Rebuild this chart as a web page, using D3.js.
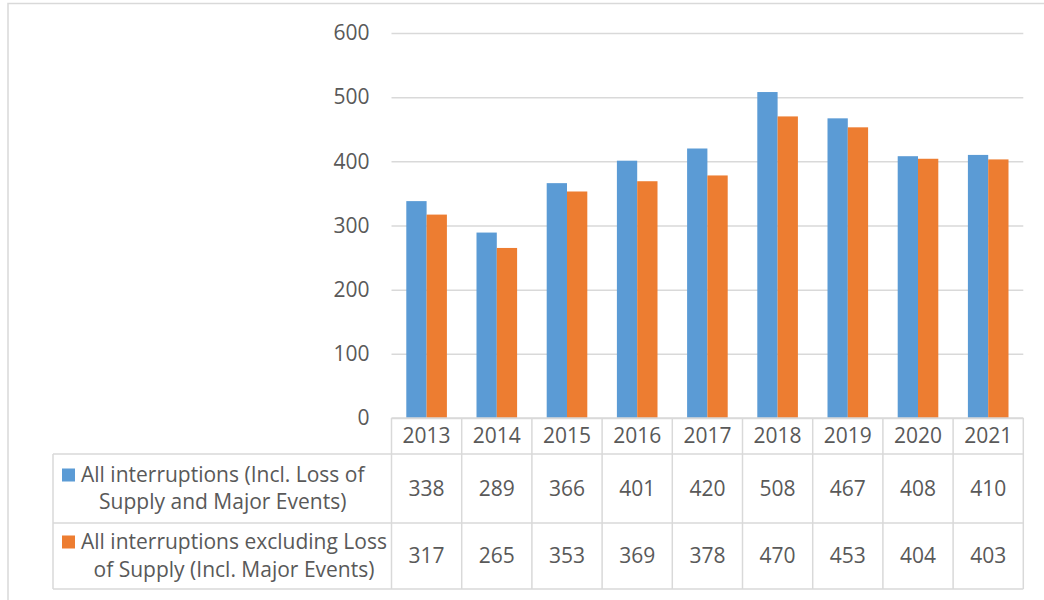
<!DOCTYPE html>
<html>
<head>
<meta charset="utf-8">
<script src="https://cdn.jsdelivr.net/npm/d3@7"></script>
<style>
  html, body { margin: 0; padding: 0; background: #fff; }
  svg { display: block; }
  text { font-family: "Open Sans", Lato, "Noto Sans", sans-serif; fill: #595959; }
</style>
</head>
<body>
<svg id="chart" width="1044" height="600"></svg>
<script>
// Interruption counts per year
const years = ["2013", "2014", "2015", "2016", "2017", "2018", "2019", "2020", "2021"];
const allInterruptions = [338, 289, 366, 401, 420, 508, 467, 408, 410];
const excludingLossOfSupply = [317, 265, 353, 369, 378, 470, 453, 404, 403];
const seriesLabels = [
  ["All interruptions (Incl. Loss of", "Supply and Major Events)"],
  ["All interruptions excluding Loss", "of Supply (Incl. Major Events)"]
];
const yTicks = [0, 100, 200, 300, 400, 500, 600];

const series = [
  { values: allInterruptions, color: "#5B9BD5", label: seriesLabels[0] },
  { values: excludingLossOfSupply, color: "#ED7D31", label: seriesLabels[1] }
];

const svg = d3.select("#chart");
const gridColor = "#d9d9d9";
const fontSize = 21;

const plotLeft = 391.5, plotRight = 1023.3, plotTop = 33, plotBottom = 418;
const tableLeft = 53;
const headerBottom = 454, row1Bottom = 523, row2Bottom = 589;

const x = d3.scaleBand().domain(years).range([plotLeft, plotRight]).padding(0);
const xInner = d3.scaleBand().domain(d3.range(series.length))
  .range([0, x.bandwidth()]).paddingInner(0).paddingOuter(0.729);
const y = d3.scaleLinear().domain([0, 600]).range([plotBottom, plotTop]);

// outer frame
svg.append("path")
  .attr("d", "M8,600 V3.5 H1044")
  .attr("fill", "none").attr("stroke", gridColor).attr("stroke-width", 1.5);

// value axis with gridlines
const yAxis = svg.append("g")
  .attr("transform", `translate(${plotLeft},0)`)
  .call(d3.axisLeft(y).tickValues(yTicks).tickSize(-(plotRight - plotLeft)).tickPadding(22).tickFormat(d3.format("d")));
yAxis.select(".domain").remove();
yAxis.selectAll(".tick line").attr("stroke", gridColor).attr("stroke-width", 1.5);
yAxis.selectAll(".tick text")
  .style("font-family", "\"Open Sans\", Lato, sans-serif")
  .attr("font-size", fontSize).attr("fill", "#595959");

// bars
series.forEach((s, i) => {
  svg.append("g").selectAll("rect")
    .data(years.map((yr, j) => ({ yr, v: s.values[j] })))
    .join("rect")
    .attr("x", d => x(d.yr) + xInner(i))
    .attr("width", xInner.bandwidth())
    .attr("y", d => y(d.v))
    .attr("height", d => y(0) - y(d.v))
    .attr("fill", s.color);
});

// data table grid
const table = svg.append("g").attr("stroke", gridColor).attr("stroke-width", 1.5).attr("fill", "none");
table.append("line").attr("x1", plotLeft).attr("x2", plotRight).attr("y1", plotBottom).attr("y2", plotBottom);
[headerBottom, row1Bottom, row2Bottom].forEach(yy => {
  table.append("line").attr("x1", tableLeft).attr("x2", plotRight).attr("y1", yy).attr("y2", yy);
});
table.append("line").attr("x1", tableLeft).attr("x2", tableLeft).attr("y1", headerBottom).attr("y2", row2Bottom);
years.forEach(yr => {
  table.append("line").attr("x1", x(yr)).attr("x2", x(yr)).attr("y1", plotBottom).attr("y2", row2Bottom);
});
table.append("line").attr("x1", plotRight).attr("x2", plotRight).attr("y1", plotBottom).attr("y2", row2Bottom);

// category labels in header row
svg.append("g").selectAll("text")
  .data(years).join("text")
  .attr("x", d => x(d) + x.bandwidth() / 2)
  .attr("y", (plotBottom + headerBottom) / 2)
  .attr("dy", "0.35em")
  .attr("text-anchor", "middle")
  .attr("font-size", fontSize)
  .text(d => d);

// series rows: legend key, wrapped label block and values
const rowBounds = [[headerBottom, row1Bottom], [row1Bottom, row2Bottom]];
const keyX = tableLeft + 9, keySize = 13, textX = keyX + 19;
const lineGaps = [27, 28];
series.forEach((s, i) => {
  const [top, bottom] = rowBounds[i];
  const mid = (top + bottom) / 2;
  const gap = lineGaps[i];
  const g = svg.append("g");
  const lines = g.selectAll("text")
    .data(s.label).join("text")
    .attr("y", (d, k) => mid + (k - 0.5) * gap)
    .attr("dy", "0.35em")
    .attr("text-anchor", "middle")
    .attr("font-size", fontSize)
    .text(d => d);
  const blockW = d3.max(lines.nodes(), n => n.getComputedTextLength());
  lines.attr("x", textX + blockW / 2);
  g.append("rect")
    .attr("x", keyX).attr("y", mid - gap / 2 - keySize / 2)
    .attr("width", keySize).attr("height", keySize)
    .attr("fill", s.color);

  svg.append("g").selectAll("text")
    .data(years.map((yr, j) => ({ yr, v: s.values[j] })))
    .join("text")
    .attr("x", d => x(d.yr) + x.bandwidth() / 2)
    .attr("y", mid)
    .attr("dy", "0.35em")
    .attr("text-anchor", "middle")
    .attr("font-size", fontSize)
    .text(d => d.v);
});
</script>
</body>
</html>
